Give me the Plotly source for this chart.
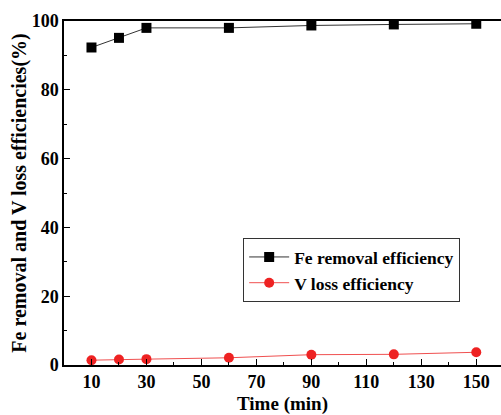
import plotly.graph_objects as go

time_min = [10, 20, 30, 60, 90, 120, 150]
fe_removal = [92.3, 95.1, 98.0, 98.0, 98.7, 99.0, 99.2]
v_loss = [1.4, 1.6, 1.7, 2.1, 3.0, 3.1, 3.7]

font_family = "Liberation Serif"

fig = go.Figure()
fig.add_trace(go.Scatter(
    x=time_min, y=fe_removal, mode="lines+markers",
    name="<b>Fe removal efficiency</b>",
    line=dict(color="#333333", width=1),
    marker=dict(symbol="square", size=10, color="black"),
))
fig.add_trace(go.Scatter(
    x=time_min, y=v_loss, mode="lines+markers",
    name="<b>V loss efficiency</b>",
    line=dict(color="#f05050", width=1),
    marker=dict(symbol="circle", size=10, color="#ee2222"),
))

fig.update_layout(
    width=501, height=415,
    margin=dict(l=64, r=0, t=21, b=50),
    paper_bgcolor="white", plot_bgcolor="white",
    font=dict(family=font_family, size=18, color="black"),
    showlegend=True,
    legend=dict(
        x=0.41, y=0.369, xanchor="left", yanchor="top",
        bordercolor="#333333", borderwidth=1, bgcolor="white",
        font=dict(family=font_family, size=17.5, color="black"),
        tracegroupgap=0, itemwidth=40,
    ),
)

fig.update_xaxes(
    range=[0, 159], showgrid=False, zeroline=False,
    showline=True, linecolor="black", linewidth=1.5, mirror=True,
    ticks="inside", ticklen=6, tickwidth=1.2, tickcolor="black",
    tick0=10, dtick=20,
    tickfont=dict(family=font_family, size=18, weight="bold"),
    minor=dict(ticks="inside", ticklen=3, tick0=0, dtick=10, tickcolor="black", tickwidth=1.2, showgrid=False),
    title=dict(text="<b>Time (min)</b>", standoff=7, font=dict(family=font_family, size=19)),
)
fig.update_yaxes(
    range=[0, 100], showgrid=False, zeroline=False,
    showline=True, linecolor="black", linewidth=1.5,
    ticks="inside", ticklen=6, tickwidth=1.2, tickcolor="black",
    tick0=0, dtick=20,
    tickfont=dict(family=font_family, size=18, weight="bold"),
    minor=dict(ticks="inside", ticklen=3, tick0=0, dtick=10, tickcolor="black", tickwidth=1.2, showgrid=False),
    title=dict(text="<b>Fe removal and V loss efficiencies(%)</b>", standoff=0, font=dict(family=font_family, size=20)),
)

fig.write_html("out.html")
